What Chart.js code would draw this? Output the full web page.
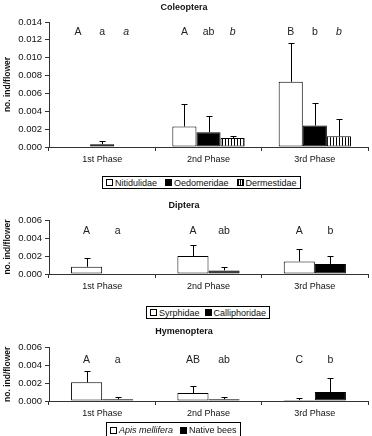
<!DOCTYPE html>
<html>
<head>
<meta charset="utf-8">
<script src="https://cdn.jsdelivr.net/npm/chart.js@4"></script>
<style>
  body { margin: 0; background: #fff; width: 372px; height: 436px; position: relative; overflow: hidden; font-family: "Liberation Sans", Arial, sans-serif; }
  canvas { position: absolute; left: 0; }
  .legend { position: absolute; border: 1px solid #000; display: flex; align-items: center; font-size: 9px; color: #111; padding: 1px 3px; height: 13px; box-sizing: border-box; white-space: nowrap; }
  .legend span.sw { display: inline-block; width: 5px; height: 5px; border: 1px solid #000; margin-right: 2px; background: #fff; }
  .legend span.item { display: inline-flex; align-items: center; margin-right: 5px; }
  #lg1 span.item { margin-right: 8px; }
  #lg3 span.item { margin-right: 7px; }
  .legend span.item:last-child { margin-right: 0 !important; }
</style>
</head>
<body>
<canvas id="c1" width="372" height="170" style="top:0px"></canvas>
<canvas id="c2" width="372" height="100" style="top:196px"></canvas>
<canvas id="c3" width="372" height="102" style="top:322px"></canvas>
<div class="legend" id="lg1" style="left:102px; top:176px"></div>
<div class="legend" id="lg2" style="left:146px; top:306px"></div>
<div class="legend" id="lg3" style="left:106px; top:422px; height:16px; align-items:flex-start; padding-top:2px"></div>
<script>
const phases = ["1st Phase", "2nd Phase", "3rd Phase"];

// Coleoptera
const coleoNames = ["Nitidulidae", "Oedomeridae", "Dermestidae"];
const nitidulidae = [0, 0.0023, 0.0073];
const nitidulidaeErr = [0, 0.0025, 0.0044];
const oedomeridae = [0.0003, 0.00165, 0.0024];
const oedomeridaeErr = [0.0004, 0.0018, 0.0025];
const dermestidae = [0, 0.001, 0.0012];
const dermestidaeErr = [0, 0.0002, 0.0019];
const coleoLetters = [["A", "A", "B"], ["a", "ab", "b"], ["a", "b", "b"]];
const coleoTicks = [0, 0.002, 0.004, 0.006, 0.008, 0.010, 0.012, 0.014];

// Diptera
const dipteraNames = ["Syrphidae", "Calliphoridae"];
const syrphidae = [0.0008, 0.002, 0.0014];
const syrphidaeErr = [0.001, 0.0012, 0.0014];
const calliphoridae = [0, 0.0004, 0.0011];
const calliphoridaeErr = [0, 0.0004, 0.0009];
const dipteraLetters = [["A", "A", "A"], ["a", "ab", "b"]];

// Hymenoptera
const hymenoNames = ["Apis mellifera", "Native bees"];
const apis = [0.0021, 0.0009, 0.0001];
const apisErr = [0.0013, 0.0008, 0.0002];
const nativeBees = [0.0002, 0.0002, 0.001];
const nativeBeesErr = [0.0003, 0.0002, 0.0016];
const hymenoLetters = [["A", "AB", "C"], ["a", "ab", "b"]];
const smallTicks = [0, 0.002, 0.004, 0.006];

const FONT = "'Liberation Sans', Arial, sans-serif";

function stripePattern() {
  const c = document.createElement("canvas");
  c.width = 3; c.height = 4;
  const g = c.getContext("2d");
  g.fillStyle = "#fff"; g.fillRect(0, 0, 3, 4);
  g.fillStyle = "#000"; g.fillRect(0, 0, 1, 4);
  return g.createPattern(c, "repeat");
}

const styles = {
  white: { backgroundColor: "#fff", borderColor: "#000" },
  black: { backgroundColor: "#000", borderColor: "#000" },
  stripe: { backgroundColor: stripePattern(), borderColor: "#000" },
};

const errorBars = {
  id: "errorBars",
  afterDatasetsDraw(chart) {
    const ctx = chart.ctx;
    const y = chart.scales.y;
    ctx.save();
    ctx.strokeStyle = "#000";
    ctx.lineWidth = 1;
    chart.data.datasets.forEach((ds, i) => {
      const meta = chart.getDatasetMeta(i);
      meta.data.forEach((el, j) => {
        const e = ds.err[j];
        if (!e) return;
        const x = Math.round(el.x) + 0.5;
        const y0 = y.getPixelForValue(ds.data[j]);
        const y1 = Math.round(y.getPixelForValue(ds.data[j] + e)) + 0.5;
        ctx.beginPath();
        ctx.moveTo(x, y0);
        ctx.lineTo(x, y1);
        ctx.moveTo(x - 3, y1);
        ctx.lineTo(x + 3, y1);
        ctx.stroke();
      });
    });
    ctx.restore();
  },
};

const sigLetters = {
  id: "sigLetters",
  afterDatasetsDraw(chart, args, opts) {
    const ctx = chart.ctx;
    ctx.save();
    ctx.fillStyle = "#222";
    ctx.textAlign = "center";
    ctx.textBaseline = "middle";
    chart.data.datasets.forEach((ds, i) => {
      const meta = chart.getDatasetMeta(i);
      ctx.font = (ds.italicLetters ? "italic " : "") + "10.5px " + FONT;
      meta.data.forEach((el, j) => {
        ctx.fillText(ds.letters[j], el.x, chart.chartArea.top + opts.offset);
      });
    });
    ctx.restore();
  },
};

function makeChart(id, title, datasets, ticks, cfg) {
  new Chart(document.getElementById(id), {
    type: "bar",
    data: { labels: phases, datasets: datasets },
    options: {
      responsive: false,
      animation: false,
      events: [],
      layout: { padding: { left: 0, right: 4, top: 0, bottom: 0 } },
      datasets: { bar: { categoryPercentage: cfg.catPct, barPercentage: 1, borderWidth: 1, borderSkipped: false } },
      plugins: {
        legend: { display: false },
        tooltip: { enabled: false },
        title: {
          display: true, text: title, color: "#111",
          font: { family: FONT, size: 9, weight: "bold" },
          padding: { top: cfg.titleTop, bottom: cfg.titleBottom },
        },
        sigLetters: { offset: cfg.letterOffset },
      },
      scales: {
        x: {
          grid: { display: true, drawOnChartArea: false, drawTicks: true, tickLength: 4, color: "#333", offset: true },
          border: { color: "#333", width: 1 },
          ticks: { color: "#111", font: { family: FONT, size: 9 }, padding: 3, maxRotation: 0 },
          afterFit(s) { s.height = cfg.xHeight; },
        },
        y: {
          min: 0, max: ticks[ticks.length - 1],
          afterBuildTicks(s) { s.ticks = ticks.map(v => ({ value: v })); },
          grid: { display: true, drawOnChartArea: false, drawTicks: true, tickLength: 4, color: "#333" },
          border: { color: "#333", width: 1 },
          ticks: { color: "#111", font: { family: FONT, size: 9.5 }, padding: 3, callback: v => v.toFixed(3) },
          title: { display: true, text: "no. ind/flower", color: "#111", font: { family: FONT, size: 8.5, weight: "bold" }, padding: { top: 3, bottom: 0 } },
          afterFit(s) { s.width = 49; },
        },
      },
    },
    plugins: [errorBars, sigLetters],
  });
}

function ds(label, data, err, letters, style, italic) {
  return Object.assign({ label, data, err, letters, italicLetters: !!italic }, style);
}

makeChart("c1", "Coleoptera", [
  ds(coleoNames[0], nitidulidae, nitidulidaeErr, coleoLetters[0], styles.white),
  ds(coleoNames[1], oedomeridae, oedomeridaeErr, coleoLetters[1], styles.black),
  ds(coleoNames[2], dermestidae, dermestidaeErr, coleoLetters[2], styles.stripe, true),
], coleoTicks, { catPct: 0.68, titleTop: 2, titleBottom: 9.2, xHeight: 23, letterOffset: 10 });

makeChart("c2", "Diptera", [
  ds(dipteraNames[0], syrphidae, syrphidaeErr, dipteraLetters[0], styles.white),
  ds(dipteraNames[1], calliphoridae, calliphoridaeErr, dipteraLetters[1], styles.black),
], smallTicks, { catPct: 0.585, titleTop: 4, titleBottom: 9.2, xHeight: 22, letterOffset: 11 });

makeChart("c3", "Hymenoptera", [
  ds(hymenoNames[0], apis, apisErr, hymenoLetters[0], styles.white),
  ds(hymenoNames[1], nativeBees, nativeBeesErr, hymenoLetters[1], styles.black),
], smallTicks, { catPct: 0.585, titleTop: 4.6, titleBottom: 10.3, xHeight: 23, letterOffset: 12 });

// legends built from the series names
function legend(id, names, swatches, italicFirst) {
  const el = document.getElementById(id);
  names.forEach((n, i) => {
    const item = document.createElement("span");
    item.className = "item";
    const sw = document.createElement("span");
    sw.className = "sw";
    if (swatches[i] === "black") sw.style.background = "#000";
    if (swatches[i] === "stripe") sw.style.background = "repeating-linear-gradient(90deg,#000 0 1px,#fff 1px 2px)";
    const t = document.createElement("span");
    t.textContent = n;
    if (italicFirst && i === 0) t.style.fontStyle = "italic";
    item.appendChild(sw);
    item.appendChild(t);
    el.appendChild(item);
  });
}
legend("lg1", coleoNames, ["white", "black", "stripe"]);
legend("lg2", dipteraNames, ["white", "black"]);
legend("lg3", hymenoNames, ["white", "black"], true);
</script>
</body>
</html>
